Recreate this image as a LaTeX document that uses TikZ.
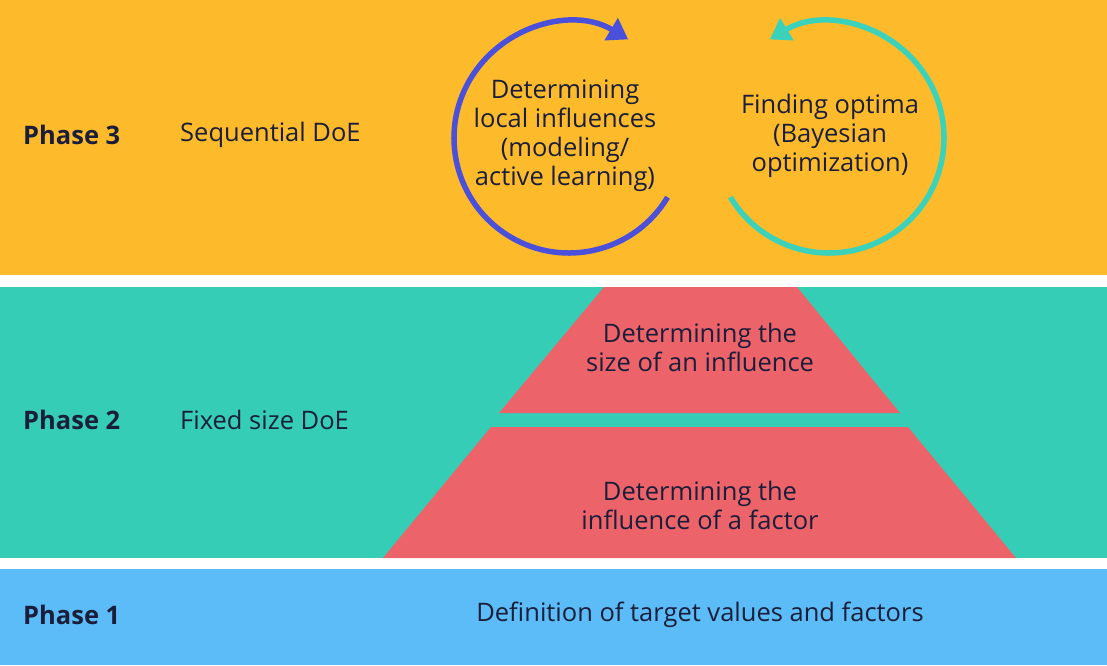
\documentclass[tikz,border=0pt]{standalone}
\usepackage{fontspec}
\setmainfont{Open Sans}
\usetikzlibrary{arrows.meta, positioning}

\definecolor{bandorange}{HTML}{FDBB2B}
\definecolor{bandteal}{HTML}{36CDB6}
\definecolor{bandblue}{HTML}{5BBCF7}
\definecolor{pyrared}{HTML}{EC646A}
\definecolor{loopblue}{HTML}{4B50DA}
\definecolor{loopteal}{HTML}{3AD2BA}
\definecolor{inkdark}{HTML}{1B1E3A}

\begin{document}
\begin{tikzpicture}[
        x=1pt, y=1pt,
        every node/.style={text=inkdark, align=center, font=\fontsize{25.5}{29}\selectfont},
        phase/.style={anchor=west, inner sep=0pt, font=\bfseries\fontsize{25.5}{29}\selectfont},
        kind/.style={anchor=west, inner sep=0pt},
        loop/.style={line width=5.5pt, -{Triangle[length=20pt, width=25pt]}}
    ]

    \useasboundingbox (0,0) rectangle (1107,665);

    % Bands
    \fill[bandorange] (0,390) rectangle (1107,665);
    \fill[bandteal] (0,107) rectangle (1107,378);
    \fill[bandblue] (0,0) rectangle (1107,96);

    % Pyramid
    \fill[pyrared] (604,378) -- (797,378) -- (900,252) -- (499,252) -- cycle;
    \fill[pyrared] (491,238) -- (908,238) -- (1016,107) -- (383,107) -- cycle;

    % Phase labels
    \node[phase] (p3) at (23,530) {Phase 3};
    \node[kind] (k3) at (180,530) {Sequential DoE};
    \node[phase] (p2) at (23,245) {Phase 2};
    \node[kind] (k2) at (180,245) {Fixed size DoE};
    \node[phase] (p1) at (23,50) {Phase 1};
    \node (def) at (700,50) {Definition of target values and factors};

    % Pyramid texts
    \node (size) at (700,318) {Determining the\\size of an influence};
    \node (infl) at (700,160) {Determining the\\influence of a factor};

    % Loops
    \coordinate (bluec) at (569,527);
    \coordinate (tealc) at (829,527);
    \node (local) at (565,529) {Determining\\local influences\\(modeling/\\active learning)};
    \node (optima) at (830,529) {Finding optima\\(Bayesian\\optimization)};
    \draw[loop, loopblue] ([shift={(-31:115)}]bluec) arc[start angle=-31, end angle=-301, radius=115];
    \draw[loop, loopteal] ([shift={(211:115)}]tealc) arc[start angle=211, end angle=481, radius=115];

\end{tikzpicture}
\end{document}
